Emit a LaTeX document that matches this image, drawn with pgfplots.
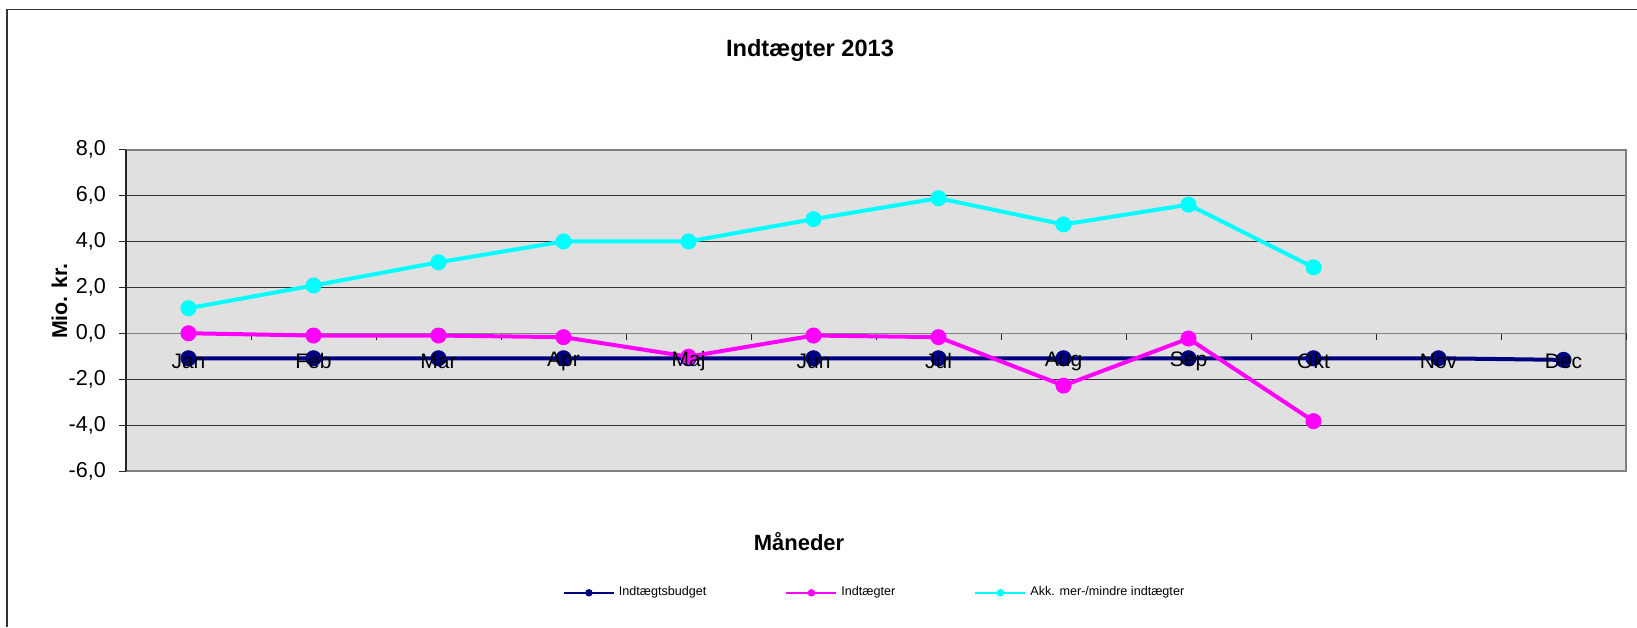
\documentclass[border=0pt]{standalone}
\usepackage{fontspec}
\setmainfont{Liberation Sans}
\usepackage{pgfplots}
\pgfplotsset{compat=1.18}
\definecolor{bgc}{RGB}{224,224,224}
\definecolor{navyc}{RGB}{0,0,128}
\definecolor{magc}{RGB}{255,0,255}
\definecolor{cyac}{RGB}{0,255,255}
\definecolor{gridc}{RGB}{50,50,50}
\definecolor{boxc}{RGB}{128,128,128}
\pgfplotsset{plotbox/.style={at={(63pt,78pt)}, anchor=south west, scale only axis,
  width=750pt, height=160.7pt, xmin=-0.5, xmax=11.5, ymin=-6, ymax=8}}
\begin{document}
\begin{tikzpicture}
\useasboundingbox (0,0) rectangle (818.5pt,313.5pt);
\draw[line width=0.8pt, color=black!80] (3.5pt,0pt) -- (3.5pt,308.75pt) -- (818.5pt,308.75pt);
\begin{axis}[plotbox,
  xtick=\empty, ytick={-6,-4,...,8}, yticklabels=\empty,
  ymajorgrids, major grid style={gridc, line width=0.5pt},
  axis line style={boxc, line width=1pt},
  axis background/.style={fill=bgc},
  major tick length=0pt]
\end{axis}
\begin{axis}[plotbox,
  axis x line*=middle, axis y line*=left,
  hide obscured x ticks=false, hide obscured y ticks=false,
  x axis line style={boxc, line width=0.6pt},
  y axis line style={black!85, line width=1pt},
  tick align=outside,
  major tick length=3.5pt,
  tick style={black!85, line width=0.5pt},
  xtick={0.5,1.5,...,11.5}, xticklabels={},
  ytick={-6,-4,...,8},
  yticklabels={{-6,0},{-4,0},{-2,0},{0,0},{2,0},{4,0},{6,0},{8,0}},
  yticklabel style={font=\fontsize{10.8}{12}\selectfont, xshift=-3pt},
  clip=false,
  legend columns=3,
  legend style={draw=none, fill=none, font=\fontsize{6.3}{7}\selectfont,
    at={(axis description cs:0.291,-0.379)}, anchor=west, inner sep=0pt,
    /tikz/every even column/.append style={column sep=37.5pt}},
  legend image code/.code={
    \draw[#1, mark=none, line width=1pt] (0pt,0pt) -- (25pt,0pt);
    \draw[#1, line width=0.5pt, mark size=1.6pt] plot coordinates {(12.5pt,0pt)};
  },
]
\addplot[navyc, line width=2pt, mark=*, mark size=3pt, mark options={solid, fill=navyc, draw=navyc}]
  coordinates {(0,-1.09) (1,-1.09) (2,-1.09) (3,-1.09) (4,-1.09) (5,-1.09) (6,-1.09) (7,-1.09) (8,-1.09) (9,-1.09) (10,-1.09) (11,-1.16)};
\addlegendentry{Indtægtsbudget}
\addplot[magc, line width=2pt, mark=*, mark size=3pt, mark options={solid, fill=magc, draw=magc}]
  coordinates {(0,0.0) (1,-0.1) (2,-0.1) (3,-0.17) (4,-1.02) (5,-0.1) (6,-0.17) (7,-2.28) (8,-0.23) (9,-3.83)};
\addlegendentry{Indtægter}
\addplot[cyac, line width=2pt, mark=*, mark size=3pt, mark options={solid, fill=cyac, draw=cyac}]
  coordinates {(0,1.09) (1,2.08) (2,3.09) (3,4.0) (4,4.0) (5,4.97) (6,5.88) (7,4.74) (8,5.6) (9,2.87)};
\addlegendentry{Akk. mer-/mindre indtægter}
\end{axis}
\begin{axis}[plotbox,
  axis x line*=middle, axis y line=none,
  x axis line style={draw=none},
  hide obscured x ticks=false,
  major tick length=0pt,
  ytick=\empty,
  xtick={0,1,...,11},
  xticklabels={Jan,Feb,Mar,Apr,Maj,Jun,Jul,Aug,Sep,Okt,Nov,Dec},
  xticklabel style={anchor=center, yshift=-14pt, font=\fontsize{10.5}{12}\selectfont}]
\end{axis}
\node[anchor=base, font=\bfseries\fontsize{11.8}{14}\selectfont] at (405pt,285pt) {Indtægter 2013};
\node[anchor=base, font=\bfseries\fontsize{11}{13}\selectfont] at (399.5pt,38.5pt) {Måneder};
\node[anchor=base, rotate=90, font=\bfseries\fontsize{10.7}{13}\selectfont] at (33.5pt,163pt) {Mio. kr.};
\end{tikzpicture}
\end{document}
